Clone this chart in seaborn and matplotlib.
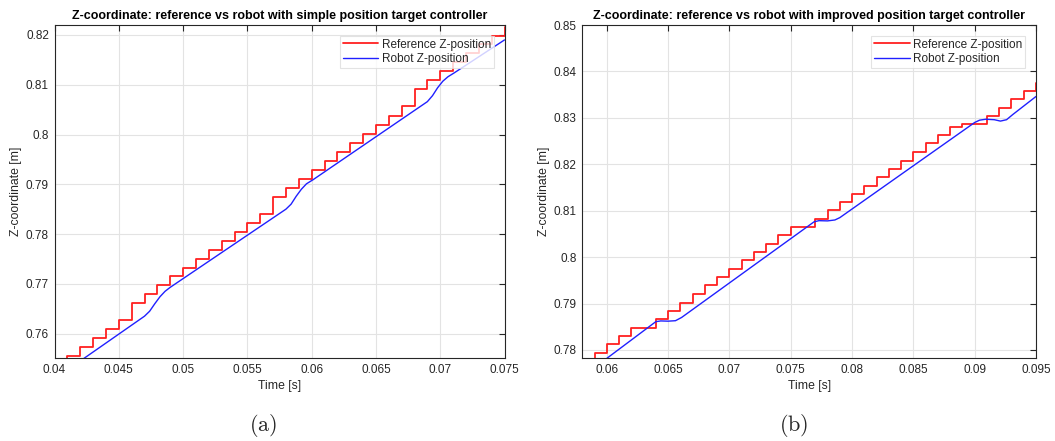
import numpy as np
import pandas as pd
import matplotlib
matplotlib.use("Agg")
import matplotlib.pyplot as plt
from matplotlib.ticker import FuncFormatter, MultipleLocator
import seaborn as sns

# ---- (a) simple position target controller ----
ref_t_a = [0.040, 0.041, 0.042, 0.043, 0.044, 0.045, 0.046, 0.047, 0.048, 0.049,
           0.050, 0.051, 0.052, 0.053, 0.054, 0.055, 0.056, 0.057, 0.058, 0.059,
           0.060, 0.061, 0.062, 0.063, 0.064, 0.065, 0.066, 0.067, 0.068, 0.069,
           0.070, 0.071, 0.072, 0.073, 0.074, 0.075]
ref_z_a = [0.7537, 0.7555, 0.7573, 0.7591, 0.7609, 0.7627, 0.7661, 0.7679, 0.7697, 0.7715,
           0.7732, 0.7750, 0.7768, 0.7786, 0.7804, 0.7822, 0.7840, 0.7874, 0.7892, 0.7910,
           0.7929, 0.7947, 0.7965, 0.7983, 0.8001, 0.8020, 0.8038, 0.8057, 0.8091, 0.8109,
           0.8127, 0.8146, 0.8164, 0.8182, 0.8198, 0.8216]
rob_t_a = [0.0420, 0.0470, 0.0474, 0.0478, 0.0482, 0.0486, 0.0490,
           0.0580, 0.0584, 0.0588, 0.0592, 0.0596, 0.0601,
           0.0690, 0.0694, 0.0698, 0.0702, 0.0706, 0.0711, 0.0750]
rob_z_a = [0.7545, 0.7635, 0.7645, 0.7660, 0.7674, 0.7685, 0.7693,
           0.7850, 0.7860, 0.7876, 0.7890, 0.7901, 0.7909,
           0.8066, 0.8078, 0.8094, 0.8107, 0.8116, 0.8124, 0.8190]

# ---- (b) improved position target controller ----
ref_t_b = [0.058, 0.059, 0.060, 0.061, 0.062, 0.063, 0.064, 0.065, 0.066, 0.067,
           0.068, 0.069, 0.070, 0.071, 0.072, 0.073, 0.074, 0.075, 0.076, 0.077,
           0.078, 0.079, 0.080, 0.081, 0.082, 0.083, 0.084, 0.085, 0.086, 0.087,
           0.088, 0.089, 0.090, 0.091, 0.092, 0.093, 0.094, 0.095]
ref_z_b = [0.7776, 0.7794, 0.7812, 0.7830, 0.7848, 0.7848, 0.7866, 0.7884, 0.7902, 0.7920,
           0.7939, 0.7957, 0.7975, 0.7993, 0.8011, 0.8029, 0.8047, 0.8065, 0.8065, 0.8083,
           0.8101, 0.8119, 0.8137, 0.8154, 0.8172, 0.8190, 0.8208, 0.8227, 0.8245, 0.8263,
           0.8281, 0.8286, 0.8286, 0.8304, 0.8322, 0.8340, 0.8358, 0.8376]
rob_t_b = [0.0594, 0.0640, 0.0644, 0.0650, 0.0656, 0.0661,
           0.0769, 0.0773, 0.0780, 0.0786, 0.0790,
           0.0900, 0.0904, 0.0909, 0.0916, 0.0921, 0.0926, 0.0931, 0.0950]
rob_z_b = [0.7770, 0.7861, 0.78625, 0.7862, 0.7863, 0.7870,
           0.8076, 0.80785, 0.8078, 0.8080, 0.8085,
           0.8290, 0.8295, 0.8297, 0.8296, 0.8293, 0.8296, 0.8307, 0.8346]

titles = ["Z-coordinate: reference vs robot with simple position target controller",
          "Z-coordinate: reference vs robot with improved position target controller"]
ref_label = "Reference Z-position"
rob_label = "Robot Z-position"

sns.set_theme(style="whitegrid")
plt.rcParams["font.family"] = ["Liberation Sans", "DejaVu Sans"]
plt.rcParams["mathtext.fontset"] = "cm"

DARK = "#262626"

fig = plt.figure(figsize=(10.55, 4.41), dpi=100)
fig.patch.set_facecolor("white")
ax_a = fig.add_axes([54.5 / 1055, 1 - 358 / 441, 450 / 1055, 333 / 441])
ax_b = fig.add_axes([582.3 / 1055, 1 - 358.3 / 441, 453.7 / 1055, 333.3 / 441])

panels = [
    (ax_a, ref_t_a, ref_z_a, rob_t_a, rob_z_a, (0.04, 0.075), (0.7551, 0.822), 0.005, 0.01),
    (ax_b, ref_t_b, ref_z_b, rob_t_b, rob_z_b, (0.058, 0.095), (0.7782, 0.85), 0.005, 0.01),
]

fmt = FuncFormatter(lambda v, p: "%g" % round(v, 6))

for i, (ax, rt, rz, bt, bz, xl, yl, xs, ys) in enumerate(panels):
    ref_df = pd.DataFrame({"t": rt, "z": rz})
    rob_df = pd.DataFrame({"t": bt, "z": bz})
    sns.lineplot(data=ref_df, x="t", y="z", ax=ax, color="#ff2020", linewidth=1.3,
                 drawstyle="steps-post", label=ref_label, estimator=None, sort=False)
    sns.lineplot(data=rob_df, x="t", y="z", ax=ax, color="#2020ff", linewidth=1.0,
                 label=rob_label, estimator=None, sort=False)
    ax.set_xlim(*xl)
    ax.set_ylim(*yl)
    ax.xaxis.set_major_locator(MultipleLocator(xs))
    ax.yaxis.set_major_locator(MultipleLocator(ys))
    ax.xaxis.set_major_formatter(fmt)
    ax.yaxis.set_major_formatter(fmt)
    ax.set_facecolor("white")
    ax.grid(True, color="#e3e3e3", linewidth=0.8)
    for s in ax.spines.values():
        s.set_visible(True)
        s.set_color(DARK)
        s.set_linewidth(0.8)
    ax.tick_params(direction="in", top=True, right=True, length=4, width=0.8,
                   colors=DARK, labelsize=8.5, pad=4)
    ax.set_xlabel("Time [s]", fontsize=8.8, color=DARK, labelpad=3)
    ax.set_ylabel("Z-coordinate [m]", fontsize=8.8, color=DARK, labelpad=3)
    ax.set_title(titles[i], fontsize=9, fontweight="bold", color="black", pad=4)
    leg = ax.legend(loc="upper right", fontsize=8.5, handlelength=3.0,
                    frameon=True, fancybox=False, borderpad=0.25, labelspacing=0.2,
                    handletextpad=0.3, borderaxespad=0.9)
    leg.get_frame().set_edgecolor("#dcdcdc")
    leg.get_frame().set_linewidth(0.8)
    for t in leg.get_texts():
        t.set_color(DARK)

fig.text(263 / 1055, 1 - 425.5 / 441, r"$\mathrm{(a)}$", ha="center", va="center", fontsize=16)
fig.text(794 / 1055, 1 - 425.5 / 441, r"$\mathrm{(b)}$", ha="center", va="center", fontsize=16)

fig.savefig("out.png", dpi=100, facecolor="white")
